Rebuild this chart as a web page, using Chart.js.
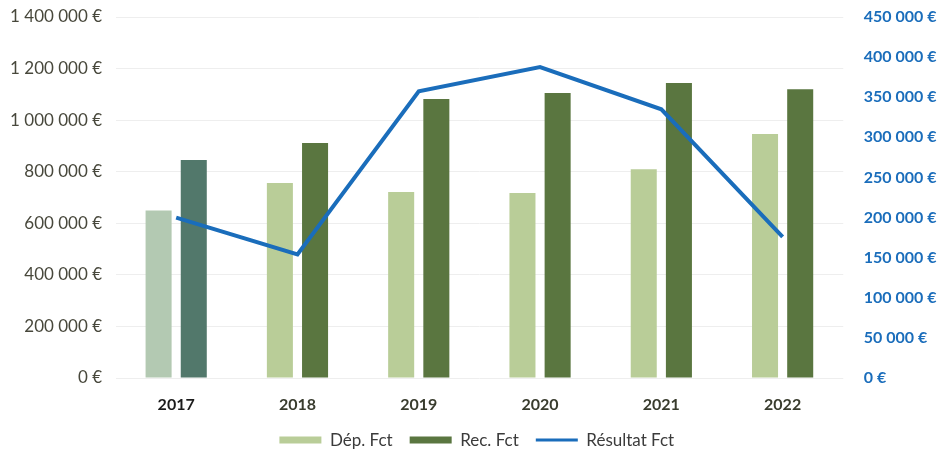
<!DOCTYPE html>
<html>
<head>
<meta charset="utf-8">
<script src="https://cdn.jsdelivr.net/npm/chart.js@4/dist/chart.umd.min.js"></script>
<style>
  html, body { margin: 0; padding: 0; background: #ffffff; }
  #wrap { width: 940px; height: 452px; position: relative; }
</style>
</head>
<body>
<div id="wrap"><canvas id="chart" width="940" height="452"></canvas></div>
<script>
// Budget de fonctionnement par exercice
const years = ['2017', '2018', '2019', '2020', '2021', '2022'];
const depensesFct = [650000, 756000, 721000, 717000, 810000, 946000];
const recettesFct = [845000, 911000, 1082000, 1105000, 1144000, 1120000];
const resultatFct = [200000, 154000, 357500, 387500, 335000, 176000];

const leftTicks = [0, 200000, 400000, 600000, 800000, 1000000, 1200000, 1400000];
const rightTicks = [0, 50000, 100000, 150000, 200000, 250000, 300000, 350000, 400000, 450000];

// 2017 columns are drawn in a muted tone, the other years in the usual greens
const depColors = ['#b3c9b2', '#b9cd98', '#b9cd98', '#b9cd98', '#b9cd98', '#b9cd98'];
const recColors = ['#52786b', '#5a7640', '#5a7640', '#5a7640', '#5a7640', '#5a7640'];
const yearColors = ['#1c1c1c', '#393c2e', '#393c2e', '#393c2e', '#393c2e', '#393c2e'];
const depLegend = '#b9cd98';
const recLegend = '#5a7640';
const lineBlue = '#1a6dbb';

function euro(v) {
  return String(Math.round(v)).replace(/\B(?=(\d{3})+(?!\d))/g, ' ') + ' €';
}

const FONT = 'Lato, "Open Sans", sans-serif';

// value axes: keep the plot flush with the top tick
function noVerticalPadding(scale) {
  scale.paddingTop = 0;
  scale.paddingBottom = 0;
}

function build() {
  new Chart(document.getElementById('chart'), {
    data: {
      labels: years,
      datasets: [
        {
          type: 'bar', label: 'Dép. Fct', data: depensesFct, yAxisID: 'y',
          backgroundColor: depColors, order: 1,
          categoryPercentage: 0.58, barPercentage: 0.74
        },
        {
          type: 'bar', label: 'Rec. Fct', data: recettesFct, yAxisID: 'y',
          backgroundColor: recColors, order: 1,
          categoryPercentage: 0.58, barPercentage: 0.74
        },
        {
          type: 'line', label: 'Résultat Fct', data: resultatFct, yAxisID: 'y1',
          borderColor: lineBlue, backgroundColor: lineBlue, borderWidth: 4,
          pointRadius: 0, tension: 0, order: 0
        }
      ]
    },
    options: {
      responsive: false,
      animation: false,
      layout: { padding: { left: -3.4, right: -17, top: 17, bottom: -6.6 } },
      plugins: {
        tooltip: { enabled: false },
        legend: {
          position: 'bottom',
          labels: {
            usePointStyle: true,
            pointStyleWidth: 42,
            boxHeight: 7,
            padding: 17,
            color: '#3b3b3b',
            font: { family: FONT, size: 17 },
            generateLabels(chart) {
              const fills = [depLegend, recLegend, lineBlue];
              return chart.data.datasets.map((ds, i) => ({
                text: ds.label,
                datasetIndex: i,
                fillStyle: fills[i],
                strokeStyle: fills[i],
                lineWidth: i === 2 ? 3 : 0,
                pointStyle: i === 2 ? 'line' : 'rect',
                fontColor: '#3b3b3b',
                hidden: false
              }));
            }
          }
        }
      },
      scales: {
        x: {
          grid: { display: false, drawTicks: false },
          border: { display: false },
          ticks: { color: yearColors, font: { family: FONT, size: 16, weight: 'bold' }, padding: 17.4 },
          afterFit(scale) { scale.height = scale.height - 17.4; }
        },
        y: {
          position: 'left',
          min: 0, max: 1400000,
          afterBuildTicks(axis) { axis.ticks = leftTicks.map(v => ({ value: v })); },
          afterFit: noVerticalPadding,
          grid: { color: '#eeeeee', lineWidth: 1, drawTicks: false },
          border: { display: false },
          ticks: { color: '#48483c', font: { family: FONT, size: 17 }, padding: 13.5, callback: v => euro(v) }
        },
        y1: {
          position: 'right',
          min: 0, max: 450000,
          afterBuildTicks(axis) { axis.ticks = rightTicks.map(v => ({ value: v })); },
          afterFit: noVerticalPadding,
          grid: { display: false, drawTicks: false },
          border: { display: false },
          ticks: { color: lineBlue, font: { family: FONT, size: 16, weight: 'bold' }, padding: 20.5, callback: v => euro(v) }
        }
      }
    }
  });
}

Promise.all([
  document.fonts.load('17px Lato'),
  document.fonts.load('bold 17px Lato')
]).then(build, build);
</script>
</body>
</html>
